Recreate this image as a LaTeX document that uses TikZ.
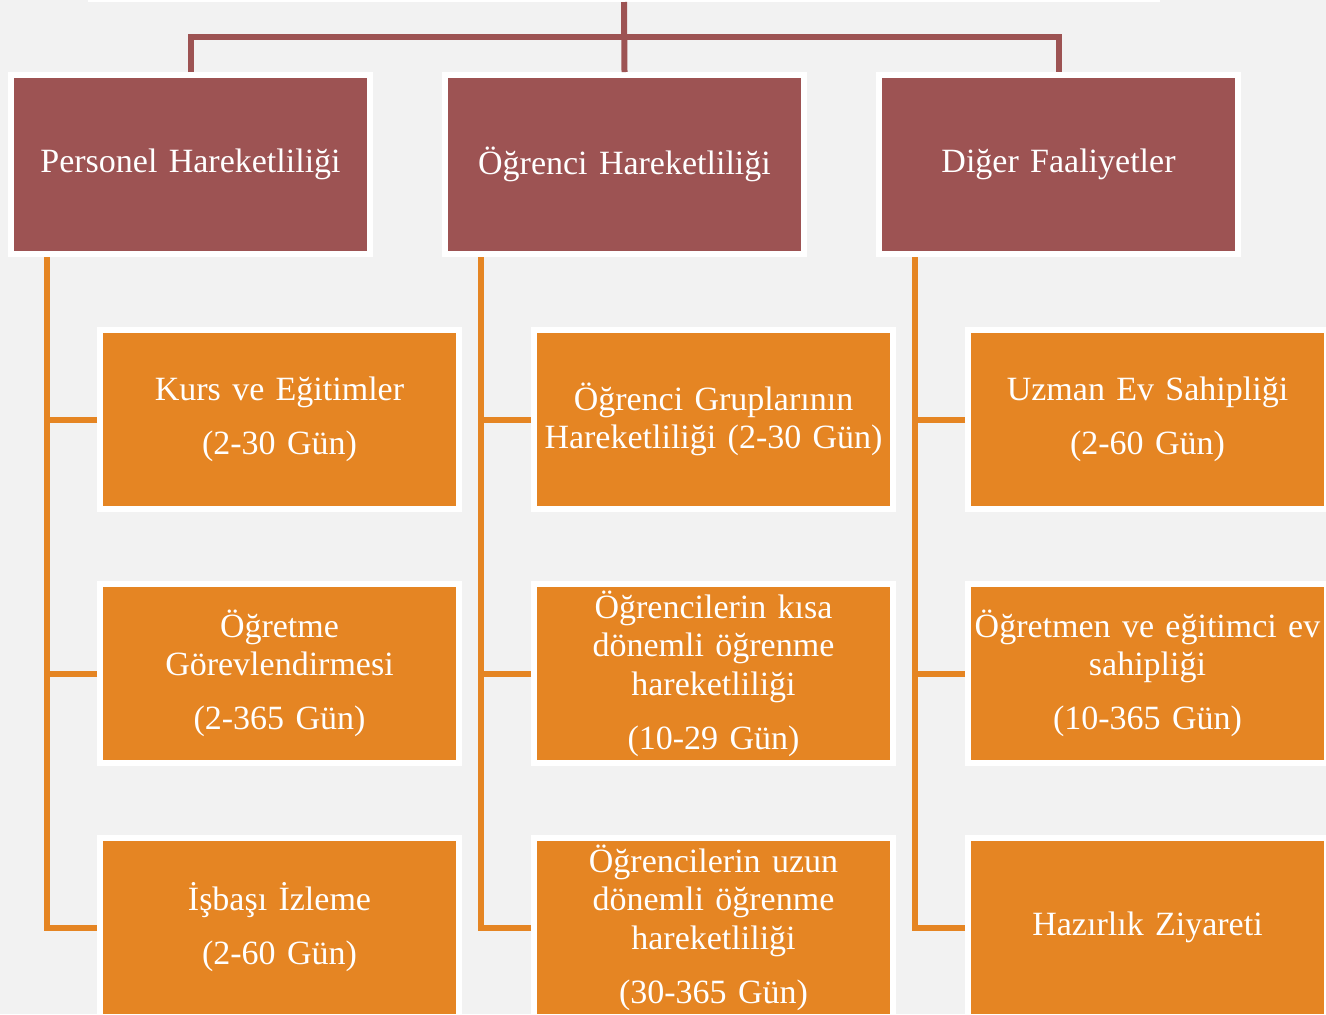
\documentclass[tikz,border=0pt]{standalone}
\usepackage{fontspec}
\setmainfont{Liberation Serif}
\usetikzlibrary{positioning}
\definecolor{hdrred}{RGB}{157,83,83}
\definecolor{leaforange}{RGB}{229,133,35}
\definecolor{bggray}{RGB}{242,242,242}

\begin{document}
\begin{tikzpicture}[x=0.5pt, y=-0.5pt, node distance=217pt]
% düğüm stilleri
\tikzstyle{hdr} = [rectangle, draw=white, line width=3pt, fill=hdrred, text=white, minimum width=179.5pt, minimum height=89.5pt, text width=176pt, inner sep=1pt, align=center, font=\fontsize{17pt}{19.3pt}\selectfont]
\tikzstyle{leaf} = [hdr, fill=leaforange]
\tikzstyle{redline} = [draw=hdrred, line width=3pt]
\tikzstyle{orangeline} = [draw=leaforange, line width=3pt]

% arka plan
\fill[bggray] (0,0) rectangle (1326,1014);
\useasboundingbox (0,0) rectangle (1326,1014);

% üst kutu (kesik)
\node[rectangle, fill=white, minimum width=536pt, minimum height=42pt, inner sep=0pt, outer sep=0pt] (root) at (624,-40) {};

% başlıklar
\node[hdr] (per) at (190.5,164.5) {Personel Hareketliliği};
\node[hdr, right of=per] (ogr) {Öğrenci Hareketliliği};
\node[hdr, right of=ogr] (dig) {Diğer Faaliyetler};

% alt kutular
\node[leaf, below of=per, node distance=127.5pt, xshift=44.5pt] (kurs) {Kurs ve Eğitimler\\[7.7pt](2-30 Gün)};
\node[leaf, below of=kurs, node distance=127pt] (gorev) {Öğretme\\Görevlendirmesi\\[7.7pt](2-365 Gün)};
\node[leaf, below of=gorev, node distance=127pt] (isbasi) {İşbaşı İzleme\\[7.7pt](2-60 Gün)};

\node[leaf, below of=ogr, node distance=127.5pt, xshift=44.5pt] (grup) {Öğrenci Gruplarının\\Hareketliliği (2-30 Gün)};
\node[leaf, below of=grup, node distance=127pt] (kisa) {Öğrencilerin kısa\\dönemli öğrenme\\hareketliliği\\[7.7pt](10-29 Gün)};
\node[leaf, below of=kisa, node distance=127pt] (uzun) {Öğrencilerin uzun\\dönemli öğrenme\\hareketliliği\\[7.7pt](30-365 Gün)};

\node[leaf, below of=dig, node distance=127.5pt, xshift=44.5pt] (uzman) {Uzman Ev Sahipliği\\[7.7pt](2-60 Gün)};
\node[leaf, below of=uzman, node distance=127pt] (ogretmen) {Öğretmen ve eğitimci ev\\sahipliği\\[7.7pt](10-365 Gün)};
\node[leaf, below of=ogretmen, node distance=127pt] (hazirlik) {Hazırlık Ziyareti};

% üst bağlantılar
\draw[redline] (root.south) -- (ogr.north);
\draw[redline] (per.north) -- ++(0,-35) -| (dig.north);

% yan bağlantılar
\coordinate (perbus) at ([xshift=19.5pt]per.south west);
\coordinate (ogrbus) at ([xshift=19.5pt]ogr.south west);
\coordinate (digbus) at ([xshift=19.5pt]dig.south west);

\draw[orangeline] (perbus) |- (isbasi.west);
\draw[orangeline] (kurs.west) -- (kurs.west -| perbus);
\draw[orangeline] (gorev.west) -- (gorev.west -| perbus);

\draw[orangeline] (ogrbus) |- (uzun.west);
\draw[orangeline] (grup.west) -- (grup.west -| ogrbus);
\draw[orangeline] (kisa.west) -- (kisa.west -| ogrbus);

\draw[orangeline] (digbus) |- (hazirlik.west);
\draw[orangeline] (uzman.west) -- (uzman.west -| digbus);
\draw[orangeline] (ogretmen.west) -- (ogretmen.west -| digbus);
\end{tikzpicture}
\end{document}
